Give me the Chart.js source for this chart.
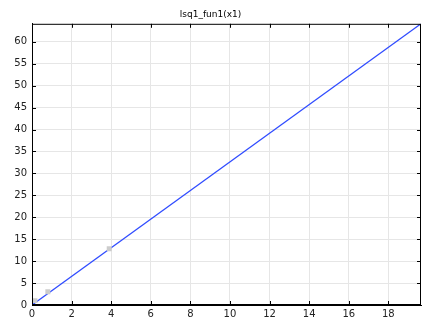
<!DOCTYPE html>
<html lang="en">
<head>
  <meta charset="UTF-8" />
  <title>lsq1_fun1(x1)</title>
  <script src="https://cdn.jsdelivr.net/npm/chart.js"></script>
  <style>
    html, body { margin: 0; padding: 0; background: #fff; }
    #wrap { width: 428px; height: 324px; }
  </style>
</head>
<body>
<div id="wrap"><canvas id="fitChart"></canvas></div>
<script>
// fitted line endpoints (x1, value)
const lineX = [0, 19.65];
const lineY = [0, 64.1];
// measured samples
const sampleX = [0.15, 0.8, 3.9];
const sampleY = [1.0, 3.0, 12.8];
// axis ticks
const xTicks = [0, 2, 4, 6, 8, 10, 12, 14, 16, 18];
const yTicks = [0, 5, 10, 15, 20, 25, 30, 35, 40, 45, 50, 55, 60];
const xMax = 19.65;
const yMax = 64.1;

const toPoints = (xs, ys) => xs.map((x, i) => ({ x: x, y: ys[i] }));

// frame round the plot plus short inward ticks on all four sides
const framePlugin = {
  id: 'frame',
  afterDraw(chart) {
    const { ctx, chartArea: a, scales } = chart;
    ctx.save();
    ctx.strokeStyle = '#000';
    ctx.lineWidth = 1;
    ctx.strokeRect(a.left + 0.5, a.top + 0.5, a.right - a.left - 1, a.bottom - a.top - 1);
    ctx.beginPath();
    xTicks.forEach(v => {
      const px = Math.round(scales.x.getPixelForValue(v)) + 0.5;
      ctx.moveTo(px, a.bottom); ctx.lineTo(px, a.bottom - 4);
      ctx.moveTo(px, a.top); ctx.lineTo(px, a.top + 4);
    });
    yTicks.forEach(v => {
      const py = Math.round(scales.y.getPixelForValue(v)) + 0.5;
      ctx.moveTo(a.left, py); ctx.lineTo(a.left + 4, py);
      ctx.moveTo(a.right, py); ctx.lineTo(a.right - 4, py);
    });
    ctx.stroke();
    ctx.restore();
  }
};

new Chart(document.getElementById('fitChart'), {
  type: 'scatter',
  data: {
    datasets: [
      {
        label: 'samples',
        data: toPoints(sampleX, sampleY),
        pointStyle: 'rect',
        pointRadius: 3.5,
        backgroundColor: '#cccccc',
        borderColor: '#cccccc',
        borderWidth: 0
      },
      {
        label: 'lsq1_fun1(x1)',
        data: toPoints(lineX, lineY),
        showLine: true,
        borderColor: '#2f4bff',
        borderWidth: 1.3,
        pointRadius: 0
      }
    ]
  },
  options: {
    responsive: true,
    maintainAspectRatio: false,
    animation: false,
    layout: { padding: { top: 0, right: 7, left: 0, bottom: 0 } },
    plugins: {
      legend: { display: false },
      tooltip: { enabled: false },
      title: {
        display: true,
        text: 'lsq1_fun1(x1)',
        color: '#000',
        font: { family: 'DejaVu Sans', size: 9, weight: 'normal' },
        padding: { top: 9, bottom: 4 }
      }
    },
    scales: {
      x: {
        type: 'linear',
        min: 0,
        max: xMax,
        afterBuildTicks: s => { s.ticks = xTicks.map(v => ({ value: v })); },
        afterFit: s => { s.height = 19; },
        grid: { color: '#e6e6e6', drawTicks: false },
        border: { color: '#000' },
        ticks: { color: '#222', padding: 3, maxRotation: 0, font: { family: 'DejaVu Sans', size: 10 } }
      },
      y: {
        type: 'linear',
        min: 0,
        max: yMax,
        afterBuildTicks: s => { s.ticks = yTicks.map(v => ({ value: v })); },
        afterFit: s => { s.width = 32; },
        grid: { color: '#e6e6e6', drawTicks: false },
        border: { color: '#000' },
        ticks: { color: '#222', padding: 5, font: { family: 'DejaVu Sans', size: 10 } }
      }
    }
  },
  plugins: [framePlugin]
});
</script>
</body>
</html>
